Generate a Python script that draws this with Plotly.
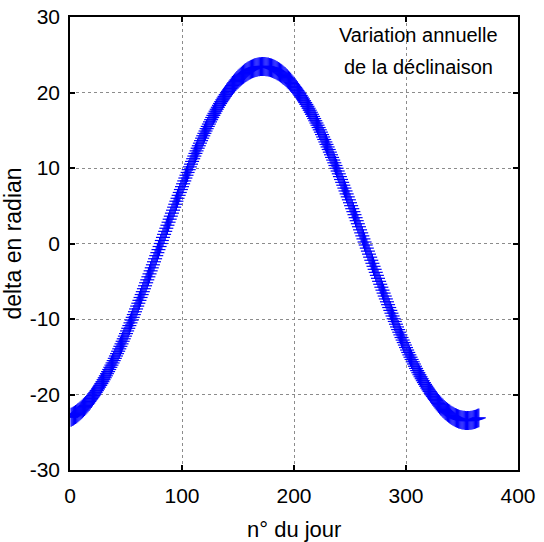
import plotly.graph_objects as go

# Day of year and declination (degrees)
days = list(range(1, 366))
delta = [
    -23.01, -22.93, -22.84, -22.75, -22.65, -22.54, -22.42, -22.30, -22.17, -22.04,
    -21.90, -21.75, -21.60, -21.44, -21.27, -21.10, -20.92, -20.73, -20.54, -20.34,
    -20.14, -19.93, -19.71, -19.49, -19.26, -19.03, -18.79, -18.55, -18.30, -18.04,
    -17.78, -17.52, -17.24, -16.97, -16.69, -16.40, -16.11, -15.82, -15.51, -15.21,
    -14.90, -14.59, -14.27, -13.95, -13.62, -13.29, -12.95, -12.62, -12.27, -11.93,
    -11.58, -11.23, -10.87, -10.51, -10.15, -9.78, -9.41, -9.04, -8.67, -8.29,
    -7.91, -7.53, -7.15, -6.76, -6.38, -5.99, -5.60, -5.20, -4.81, -4.41,
    -4.02, -3.62, -3.22, -2.82, -2.42, -2.02, -1.61, -1.21, -0.81, -0.40,
    0.00,
    0.40, 0.81, 1.21, 1.61, 2.02, 2.42, 2.82, 3.22, 3.62, 4.02,
    4.41, 4.81, 5.20, 5.60, 5.99, 6.38, 6.76, 7.15, 7.53, 7.91,
    8.29, 8.67, 9.04, 9.41, 9.78, 10.15, 10.51, 10.87, 11.23, 11.58,
    11.93, 12.27, 12.62, 12.95, 13.29, 13.62, 13.95, 14.27, 14.59, 14.90,
    15.21, 15.51, 15.82, 16.11, 16.40, 16.69, 16.97, 17.24, 17.52, 17.78,
    18.04, 18.30, 18.55, 18.79, 19.03, 19.26, 19.49, 19.71, 19.93, 20.14,
    20.34, 20.54, 20.73, 20.92, 21.10, 21.27, 21.44, 21.60, 21.75, 21.90,
    22.04, 22.17, 22.30, 22.42, 22.54, 22.65, 22.75, 22.84, 22.93, 23.01,
    23.09, 23.15, 23.21, 23.27, 23.31, 23.35, 23.39, 23.41, 23.43, 23.44,
    23.45, 23.45, 23.44, 23.42, 23.40, 23.37, 23.33, 23.29, 23.24, 23.18,
    23.12, 23.05, 22.97, 22.89, 22.80, 22.70, 22.59, 22.48, 22.36, 22.24,
    22.11, 21.97, 21.82, 21.67, 21.52, 21.35, 21.18, 21.01, 20.82, 20.64,
    20.44, 20.24, 20.03, 19.82, 19.60, 19.38, 19.15, 18.91, 18.67, 18.42,
    18.17, 17.91, 17.65, 17.38, 17.11, 16.83, 16.55, 16.26, 15.96, 15.67,
    15.36, 15.06, 14.75, 14.43, 14.11, 13.78, 13.45, 13.12, 12.79, 12.45,
    12.10, 11.75, 11.40, 11.05, 10.69, 10.33, 9.97, 9.60, 9.23, 8.86,
    8.48, 8.10, 7.72, 7.34, 6.96, 6.57, 6.18, 5.79, 5.40, 5.01,
    4.61, 4.22, 3.82, 3.42, 3.02, 2.62, 2.22, 1.81, 1.41, 1.01,
    0.61, 0.20,
    -0.20, -0.61, -1.01, -1.41, -1.81, -2.22, -2.62, -3.02, -3.42, -3.82,
    -4.22, -4.61, -5.01, -5.40, -5.79, -6.18, -6.57, -6.96, -7.34, -7.72,
    -8.10, -8.48, -8.86, -9.23, -9.60, -9.97, -10.33, -10.69, -11.05, -11.40,
    -11.75, -12.10, -12.45, -12.79, -13.12, -13.45, -13.78, -14.11, -14.43, -14.75,
    -15.06, -15.36, -15.67, -15.96, -16.26, -16.55, -16.83, -17.11, -17.38, -17.65,
    -17.91, -18.17, -18.42, -18.67, -18.91, -19.15, -19.38, -19.60, -19.82, -20.03,
    -20.24, -20.44, -20.64, -20.82, -21.01, -21.18, -21.35, -21.52, -21.67, -21.82,
    -21.97, -22.11, -22.24, -22.36, -22.48, -22.59, -22.70, -22.80, -22.89, -22.97,
    -23.05, -23.12, -23.18, -23.24, -23.29, -23.33, -23.37, -23.40, -23.42, -23.44,
    -23.45, -23.45, -23.44, -23.43, -23.41, -23.39, -23.35, -23.31, -23.27, -23.21,
    -23.15, -23.09,
]

x_ticks = [0, 100, 200, 300, 400]
x_labels = ["0", "100", "200", "300", "400"]
y_ticks = [-30, -20, -10, 0, 10, 20, 30]
y_labels = ["-30", "-20", "-10", "0", "10", "20", "30"]

x_title = "n° du jour"
y_title = "delta en radian"
annot_lines = ["Variation annuelle", "de la déclinaison"]
annot_x = 311
annot_y = [27.6, 23.4]

FONT = "Arial, 'Liberation Sans', Helvetica, sans-serif"
BLUE = "#0000FF"

fig = go.Figure()
# '+' markers drawn as a vertical and a horizontal stroke on each point
fig.add_trace(go.Scatter(
    x=days, y=delta, mode="markers", showlegend=False, hoverinfo="skip",
    marker=dict(symbol="line-ns", size=13.5, color=BLUE,
                line=dict(color=BLUE, width=1.2)),
))
fig.add_trace(go.Scatter(
    x=days, y=delta, mode="markers", showlegend=False,
    marker=dict(symbol="line-ew", size=10, color=BLUE,
                line=dict(color=BLUE, width=1.2)),
))

for line, yy in zip(annot_lines, annot_y):
    fig.add_annotation(
        x=annot_x, y=yy, xref="x", yref="y", text=line,
        showarrow=False, font=dict(family=FONT, size=20, color="black"),
        xanchor="center", yanchor="middle", align="center",
    )

# x-axis title, sitting right at the bottom edge as in the reference
fig.add_annotation(
    x=0.5, y=-0.1305, xref="paper", yref="paper", text=x_title,
    showarrow=False, font=dict(family=FONT, size=22, color="black"),
    xanchor="center", yanchor="middle",
)

fig.update_layout(
    width=544, height=542,
    margin=dict(l=70, r=26, t=17, b=72, autoexpand=False),
    paper_bgcolor="white", plot_bgcolor="white",
    font=dict(family=FONT, size=21, color="black"),
    showlegend=False,
)
axis_common = dict(
    ticks="inside", ticklen=5, tickwidth=1.5, tickcolor="black",
    showline=True, linecolor="black", linewidth=1.5, mirror="ticks",
    showgrid=True, gridcolor="#8c8c8c", griddash="dot", gridwidth=1,
    zeroline=False, automargin=False,
)
fig.update_xaxes(
    range=[0, 400], tickvals=x_ticks, ticktext=x_labels,
    ticklabelstandoff=6,
    **axis_common,
)
fig.update_yaxes(
    range=[-30, 30], tickvals=y_ticks, ticktext=y_labels,
    ticklabelstandoff=4,
    title=dict(text=y_title, standoff=12,
               font=dict(family=FONT, size=23, color="black")),
    **axis_common,
)

fig.write_html("out.html")
